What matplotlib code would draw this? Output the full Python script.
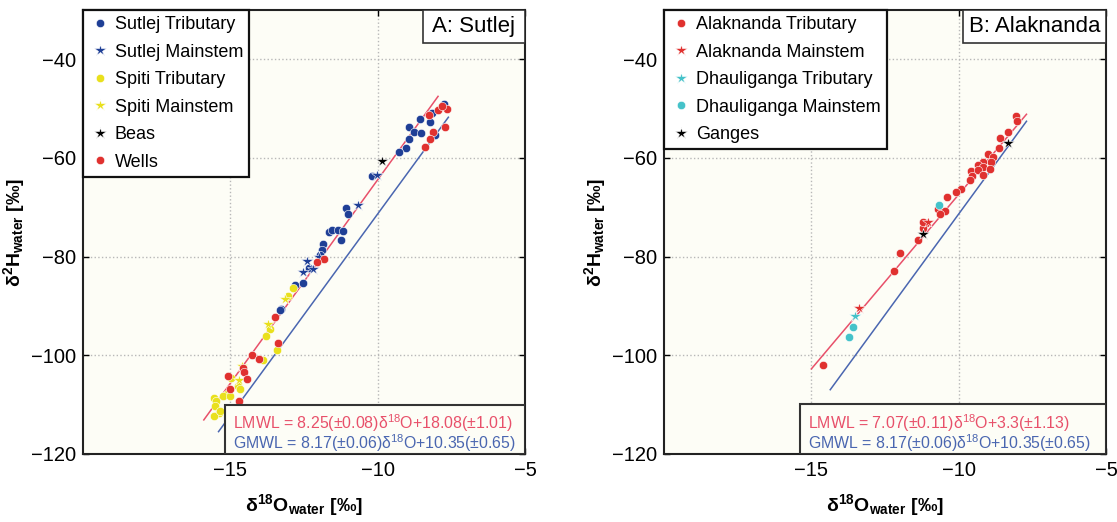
import matplotlib.pyplot as plt
from matplotlib.patches import Rectangle
import numpy as np

plt.rcParams['font.family'] = ['Liberation Sans', 'DejaVu Sans']
plt.rcParams['mathtext.fontset'] = 'custom'
plt.rcParams['mathtext.rm'] = 'Liberation Sans'
plt.rcParams['mathtext.bf'] = 'Liberation Sans:bold'

# ---- Panel A: Sutlej ----
sutlej_trib_x = [-7.74, -8.14, -8.58, -8.22, -8.93, -8.78, -8.53, -8.95, -9.03, -9.26, -8.05, -10.2,
                 -11.07, -11.01, -11.65, -11.56, -11.33, -11.16, -11.25, -11.86, -11.9, -11.97,
                 -12.32, -12.8, -12.52, -13.28, -13.33]
sutlej_trib_y = [-49.1, -50.8, -52.0, -52.7, -53.8, -54.8, -54.9, -56.2, -57.9, -58.8, -55.4, -63.6,
                 -70.1, -71.4, -75.0, -74.5, -74.5, -74.8, -76.6, -77.4, -78.6, -79.6,
                 -82.3, -85.7, -85.3, -90.6, -90.75]
sutlej_main_x = [-10.03, -10.67, -12.0, -12.4, -12.21, -12.52]
sutlej_main_y = [-63.4, -69.5, -80.0, -80.8, -82.6, -83.2]
spiti_trib_x = [-12.88, -13.03, -13.65, -13.79, -13.4, -13.9, -14.97, -14.75, -14.66, -15.12, -15.25,
                -15.57, -15.48, -15.52, -15.4, -15.57, -15.35, -15.0]
spiti_trib_y = [-86.4, -87.9, -94.7, -96.0, -98.9, -101.0, -104.5, -106.3, -106.9, -107.9, -108.2,
                -108.6, -109.3, -110.3, -111.6, -112.2, -111.3, -108.3]
spiti_main_x = [-13.14, -13.71, -14.61, -14.72]
spiti_main_y = [-88.6, -93.7, -102.1, -105.0]
beas_x = [-9.86]
beas_y = [-60.7]
wells_x = [-7.65, -7.94, -7.83, -8.25, -8.13, -8.22, -8.41, -7.72, -11.82, -12.07, -13.48, -13.37,
           -14.27, -14.01, -14.56, -14.52, -15.07, -14.44, -15.0, -14.69]
wells_y = [-50.1, -50.2, -49.4, -51.3, -54.8, -56.2, -57.8, -53.8, -80.4, -81.1, -92.3, -97.5,
           -100.0, -100.8, -102.5, -103.4, -104.2, -104.8, -106.9, -109.2]

# ---- Panel B: Alaknanda ----
alak_trib_x = [-8.05, -8.03, -8.33, -8.59, -8.64, -8.99, -8.84, -8.9, -9.18, -9.35, -9.18, -8.95,
               -9.57, -9.35, -9.16, -9.54, -9.63, -9.91, -10.1, -10.4, -10.7, -10.47, -10.64,
               -11.1, -11.2, -11.37, -11.2, -11.99, -12.2, -14.62]
alak_trib_y = [-51.4, -52.5, -54.8, -55.9, -57.9, -59.1, -59.8, -60.8, -60.8, -61.5, -61.8, -62.3,
               -62.7, -62.5, -63.4, -63.6, -64.5, -66.2, -66.9, -68.0, -70.4, -70.8, -71.3,
               -73.2, -74.2, -76.7, -72.9, -79.3, -83.0, -102.0]
alak_main_x = [-11.04, -13.38]
alak_main_y = [-72.9, -90.4]
dhaul_trib_x = [-13.51]
dhaul_trib_y = [-92.1]
dhaul_main_x = [-10.66, -13.59, -13.72]
dhaul_main_y = [-69.5, -94.2, -96.2]
ganges_x = [-8.33, -11.2]
ganges_y = [-56.9, -75.4]

# water lines: slope, intercept, x extent
lmwl_a = (8.25, 18.08, -15.9, -7.95)
gmwl_a = (8.17, 10.35, -15.4, -7.6)
lmwl_b = (7.07, 3.3, -15.0, -7.7)
gmwl_b = (8.17, 10.35, -14.36, -7.7)

RED = '#e0312f'
BLUE = '#1f3f96'
YELLOW = '#e9e01c'
CYAN = '#45c2c9'
LRED = '#e8506a'
LBLUE = '#4a66b0'

fig = plt.figure(figsize=(11.17, 5.22), dpi=100)
axA = fig.add_axes([0.0743, 0.1303, 0.3957, 0.8506])
axB = fig.add_axes([0.5945, 0.1303, 0.3957, 0.8506])


def draw_line(ax, spec, color):
    m, b, x0, x1 = spec
    xs = np.array([x0, x1])
    ax.plot(xs, m * xs + b, color=color, lw=1.1, zorder=2)


def pts(ax, x, y, color, marker, label):
    ms = 9 if marker == '*' else 6
    ax.plot(x, y, ls='none', marker=marker, color=color, ms=ms, mec='white', mew=0.4,
            label=label, zorder=3)


def style(ax, title, title_x):
    ax.set_xlim(-20, -5)
    ax.set_ylim(-120, -30)
    ax.set_xticks([-15, -10, -5])
    ax.set_yticks([-120, -100, -80, -60, -40])
    ax.set_xticklabels(['\u221215', '\u221210', '\u22125'])
    ax.set_yticklabels(['\u2212120', '\u2212100', '\u221280', '\u221260', '\u221240'])
    ax.set_facecolor('#fdfdf6')
    ax.grid(True, color='#b8b8b8', ls=':', lw=1.0)
    ax.set_axisbelow(True)
    ax.tick_params(direction='in', top=True, right=True, length=4, labelsize=14.5, width=1, pad=5)
    for s in ax.spines.values():
        s.set_linewidth(1.5)
        s.set_color('#222222')
    ax.set_xlabel(r'$\mathbf{\delta^{18}O_{water}}$ [‰]', fontsize=14, fontweight='bold', labelpad=9)
    ax.set_ylabel(r'$\mathbf{\delta^{2}H_{water}}$ [‰]', fontsize=14, fontweight='bold', labelpad=3)
    ax.add_patch(Rectangle((title_x, 0.926), 1 - title_x, 0.074, transform=ax.transAxes,
                           facecolor='white', edgecolor='#333333', lw=1.2, zorder=5))
    ax.text((title_x + 1) / 2, 0.963, title, transform=ax.transAxes, ha='center', va='center',
            fontsize=16, zorder=6)
    leg = ax.legend(loc='upper left', borderaxespad=0, fancybox=False, framealpha=1,
                    edgecolor='#111111', fontsize=13, handletextpad=0.2, handlelength=1.2,
                    labelspacing=0.58, borderpad=0.35)
    leg.get_frame().set_linewidth(1.6)
    leg.set_zorder(7)


def eq_box(ax, x0, h, lm_text, gm_text):
    ax.add_patch(Rectangle((x0, 0), 1 - x0, h, transform=ax.transAxes,
                           facecolor='#fdfdf6', edgecolor='#333333', lw=1.5, zorder=5))
    ax.text(x0 + 0.018, 0.070, lm_text, transform=ax.transAxes, color=LRED, fontsize=11.4,
            va='center', zorder=6)
    ax.text(x0 + 0.018, 0.025, gm_text, transform=ax.transAxes, color=LBLUE, fontsize=11.4,
            va='center', zorder=6)


# Panel A
draw_line(axA, lmwl_a, LRED)
draw_line(axA, gmwl_a, LBLUE)
pts(axA, sutlej_trib_x, sutlej_trib_y, BLUE, 'o', 'Sutlej Tributary')
pts(axA, sutlej_main_x, sutlej_main_y, BLUE, '*', 'Sutlej Mainstem')
pts(axA, spiti_trib_x, spiti_trib_y, YELLOW, 'o', 'Spiti Tributary')
pts(axA, spiti_main_x, spiti_main_y, YELLOW, '*', 'Spiti Mainstem')
pts(axA, beas_x, beas_y, 'black', '*', 'Beas')
pts(axA, wells_x, wells_y, RED, 'o', 'Wells')
style(axA, 'A: Sutlej', 0.769)
eq_box(axA, 0.321, 0.110,
       r'LMWL = 8.25(±0.08)δ$^{18}$O+18.08(±1.01)',
       r'GMWL = 8.17(±0.06)δ$^{18}$O+10.35(±0.65)')

# Panel B
draw_line(axB, lmwl_b, LRED)
draw_line(axB, gmwl_b, LBLUE)
pts(axB, alak_trib_x, alak_trib_y, RED, 'o', 'Alaknanda Tributary')
pts(axB, alak_main_x, alak_main_y, RED, '*', 'Alaknanda Mainstem')
pts(axB, dhaul_trib_x, dhaul_trib_y, CYAN, '*', 'Dhauliganga Tributary')
pts(axB, dhaul_main_x, dhaul_main_y, CYAN, 'o', 'Dhauliganga Mainstem')
pts(axB, ganges_x, ganges_y, 'black', '*', 'Ganges')
style(axB, 'B: Alaknanda', 0.676)
eq_box(axB, 0.308, 0.113,
       r'LMWL = 7.07(±0.11)δ$^{18}$O+3.3(±1.13)',
       r'GMWL = 8.17(±0.06)δ$^{18}$O+10.35(±0.65)')

fig.savefig('out.png', dpi=100)
